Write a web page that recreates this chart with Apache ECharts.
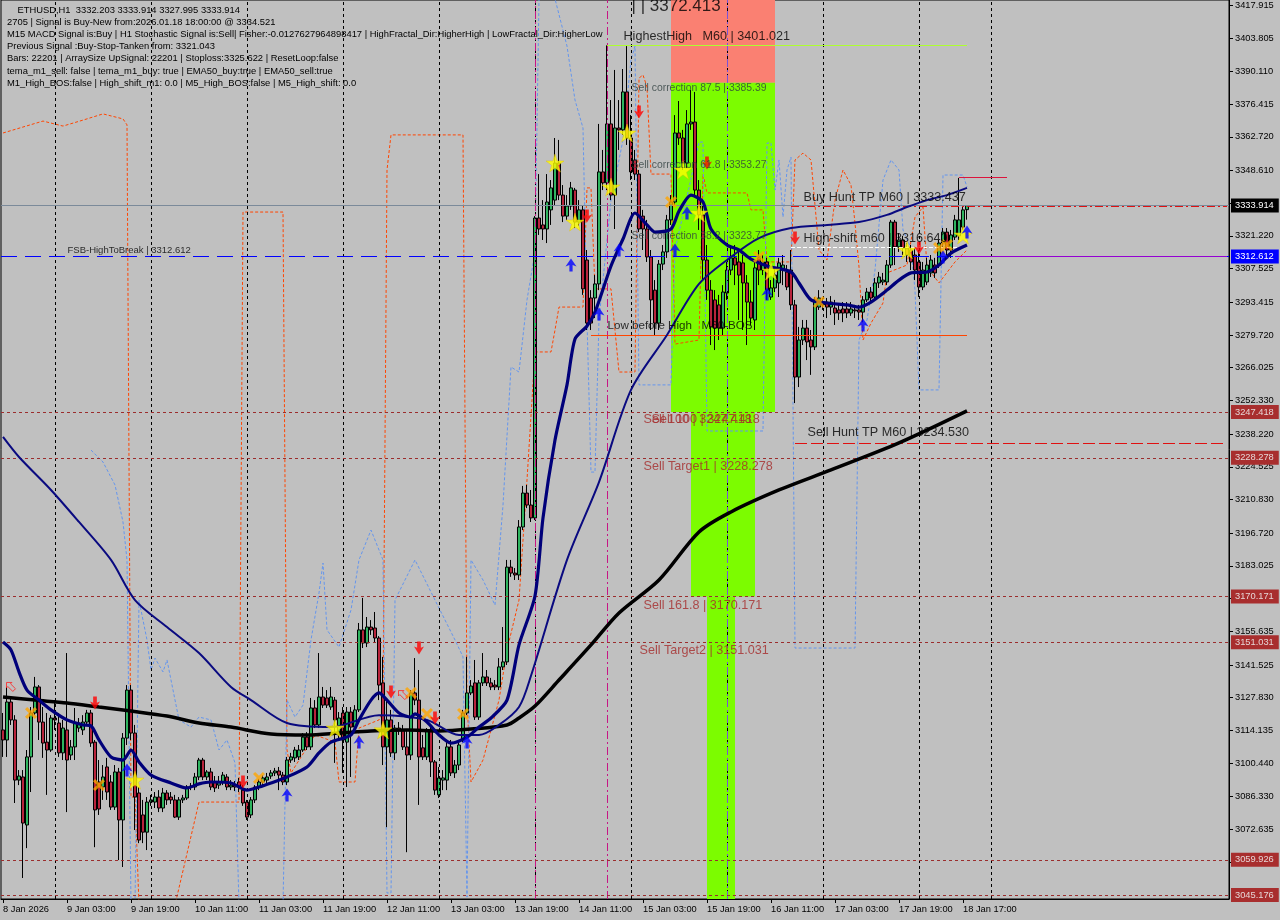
<!DOCTYPE html>
<html><head><meta charset="utf-8">
<script src="https://cdn.jsdelivr.net/npm/echarts@6/dist/echarts.min.js"></script>
<style>html,body{margin:0;padding:0;background:#C0C0C0;}#c{width:1280px;height:920px;}</style>
</head><body><div id="c"></div><script>
const FONT = "'Liberation Sans',Arial,sans-serif";

const slotCount = 307;
const timeLabels = ['8 Jan 2026','9 Jan 03:00','9 Jan 19:00','10 Jan 11:00','11 Jan 03:00','11 Jan 19:00','12 Jan 11:00','13 Jan 03:00','13 Jan 19:00','14 Jan 11:00','15 Jan 03:00','15 Jan 19:00','16 Jan 11:00','17 Jan 03:00','17 Jan 19:00','18 Jan 17:00'];
const yTickValues = [3417.915,3403.805,3390.110,3376.415,3362.720,3348.610,3334.915,3321.220,3307.525,3293.415,3279.720,3266.025,3252.330,3238.220,3224.525,3210.830,3196.720,3183.025,3169.330,3155.635,3141.525,3127.830,3114.135,3100.440,3086.330,3072.635,3058.940];

const infoLines = [
 '    ETHUSD,H1  3332.203 3333.914 3327.995 3333.914',
 '2705 | Signal is Buy-New from:2026.01.18 18:00:00 @ 3334.521',
 'M15 MACD Signal is:Buy | H1 Stochastic Signal is:Sell| Fisher:-0.0127627964898417 | HighFractal_Dir:HigherHigh | LowFractal_Dir:HigherLow',
 'Previous Signal :Buy-Stop-Tanken from: 3321.043',
 'Bars: 22201 | ArraySize UpSignal: 22201 | Stoploss:3325.622 | ResetLoop:false',
 'tema_m1_sell: false | tema_m1_buy: true | EMA50_buy:true | EMA50_sell:true',
 'M1_High_BOS:false | High_shift_m1: 0.0 | M5_High_BOS:false | M5_High_shift: 0.0'
];

// [open, close, low, high]
const candles = [
[3114.3,3110.1,3103.0,3121.4],[3110.1,3126.0,3103.0,3132.3],[3126.0,3118.5,3116.4,3128.1],[3118.5,3093.3,3083.7,3120.5],[3093.3,3095.0,3091.2,3097.5],
[3094.6,3075.3,3052.3,3097.5],[3074.5,3103.0,3064.8,3105.9],[3103.0,3121.4,3088.3,3123.9],[3121.4,3132.3,3120.5,3136.5],[3132.3,3117.6,3110.1,3133.1],
[3117.6,3108.8,3102.6,3123.9],[3109.2,3105.9,3087.1,3121.4],[3105.9,3119.3,3105.1,3120.5],[3119.3,3118.5,3114.3,3126.8],[3117.2,3104.7,3103.0,3121.4],
[3104.7,3115.1,3101.7,3118.5],[3114.3,3101.7,3079.9,3146.5],[3103.8,3107.2,3101.7,3110.1],[3107.2,3117.2,3101.7,3123.5],[3115.1,3117.2,3113.4,3119.3],
[3114.3,3117.6,3112.2,3120.5],[3117.6,3121.4,3116.4,3122.7],[3121.4,3108.8,3107.2,3122.7],[3109.2,3080.8,3065.2,3110.1],[3092.5,3081.2,3078.7,3101.7],
[3090.4,3094.6,3085.0,3099.6],[3098.8,3088.3,3085.0,3102.6],[3092.5,3082.0,3080.8,3095.4],[3082.0,3096.7,3080.8,3099.6],[3096.7,3076.6,3059.8,3098.4],
[3076.6,3110.9,3056.9,3113.0],[3110.9,3131.0,3108.0,3133.1],[3131.0,3113.0,3110.1,3133.1],[3113.0,3086.2,3072.4,3116.4],[3087.9,3068.2,3066.9,3090.4],
[3078.7,3071.5,3066.9,3085.0],[3071.5,3084.1,3064.0,3086.2],[3084.1,3085.0,3082.5,3087.1],[3084.1,3086.2,3081.6,3088.3],[3086.2,3081.6,3079.9,3089.1],
[3081.6,3087.9,3079.9,3090.0],[3087.9,3085.0,3082.9,3089.1],[3086.2,3085.0,3083.3,3088.3],[3085.0,3077.8,3077.4,3087.1],[3077.8,3085.0,3076.6,3086.2],
[3085.0,3085.8,3083.7,3087.1],[3085.8,3090.4,3085.0,3091.2],[3090.4,3090.8,3089.1,3092.1],[3090.4,3094.6,3089.1,3096.3],[3094.6,3101.7,3093.3,3102.6],
[3101.7,3094.6,3093.3,3102.6],[3094.6,3096.7,3093.3,3097.5],[3096.7,3090.4,3089.1,3098.4],[3092.5,3090.0,3088.3,3095.0],[3091.2,3092.5,3089.6,3095.0],
[3092.5,3095.4,3091.2,3096.7],[3094.6,3090.4,3089.1,3095.8],[3090.4,3091.2,3089.1,3093.3],[3091.2,3090.4,3088.7,3092.9],[3092.5,3090.4,3088.3,3094.2],
[3089.1,3083.7,3082.5,3091.2],[3084.1,3077.8,3076.6,3085.0],[3078.7,3085.0,3077.4,3086.2],[3085.0,3090.4,3083.7,3091.2],[3090.4,3092.5,3089.1,3093.8],
[3092.5,3094.2,3091.2,3095.4],[3093.3,3094.6,3092.1,3096.3],[3095.0,3096.3,3093.8,3097.5],[3096.3,3097.1,3095.0,3098.4],[3097.1,3095.4,3089.1,3098.8],
[3095.4,3092.5,3091.2,3096.7],[3092.5,3101.7,3091.2,3103.0],[3101.7,3103.0,3100.5,3104.7],[3102.6,3105.9,3100.9,3107.2],[3103.0,3105.9,3101.7,3108.0],
[3105.9,3111.3,3105.1,3113.0],[3111.3,3107.2,3105.9,3113.4],[3107.2,3123.5,3105.9,3127.7],[3123.5,3116.4,3115.1,3126.8],[3116.4,3128.1,3115.1,3146.5],
[3128.1,3124.7,3123.5,3132.3],[3127.7,3124.7,3123.5,3131.0],[3123.9,3128.1,3122.7,3132.3],[3126.8,3118.5,3100.5,3128.1],[3112.2,3119.3,3110.1,3121.8],
[3121.4,3110.1,3096.3,3123.9],[3109.2,3121.8,3090.4,3123.9],[3121.8,3115.5,3094.6,3123.9],[3115.5,3122.7,3114.3,3124.7],[3122.7,3156.2,3121.8,3159.1],
[3156.2,3150.7,3148.6,3169.6],[3150.7,3157.4,3149.0,3161.6],[3157.4,3156.2,3154.1,3160.3],[3157.0,3152.8,3151.1,3163.7],[3152.8,3133.1,3126.8,3153.6],
[3134.0,3107.2,3099.6,3144.9],[3107.2,3118.5,3073.6,3126.8],[3118.5,3104.7,3103.0,3122.7],[3104.7,3115.1,3101.7,3116.4],[3115.1,3114.3,3112.2,3117.6],
[3114.3,3107.2,3105.9,3116.4],[3107.2,3103.8,3063.1,3114.3],[3103.8,3129.8,3101.7,3131.0],[3129.8,3126.8,3124.7,3144.4],[3126.8,3103.0,3082.9,3139.4],
[3106.8,3103.0,3101.7,3112.2],[3103.0,3114.3,3101.7,3115.1],[3114.3,3100.9,3094.6,3116.4],[3100.9,3089.1,3087.1,3101.7],[3087.1,3094.2,3085.8,3098.8],
[3093.3,3094.2,3089.1,3097.5],[3093.3,3107.2,3089.1,3109.2],[3107.2,3096.3,3095.0,3110.1],[3096.3,3099.6,3094.2,3101.7],[3099.6,3108.0,3097.5,3109.2],
[3110.1,3121.4,3109.2,3122.7],[3121.4,3129.8,3120.5,3144.9],[3129.8,3132.7,3128.9,3135.2],[3134.0,3119.7,3118.5,3143.6],[3119.7,3134.0,3118.5,3135.2],
[3134.0,3136.5,3132.7,3146.5],[3136.5,3134.0,3132.7,3139.4],[3134.0,3132.3,3131.0,3136.1],[3133.1,3132.3,3131.0,3135.2],[3132.3,3140.7,3131.0,3144.4],
[3140.7,3142.8,3139.4,3157.4],[3142.8,3182.5,3141.5,3185.5],[3182.5,3180.0,3178.4,3185.5],[3180.0,3179.2,3177.1,3182.1],[3179.2,3199.3,3177.1,3202.2],
[3199.3,3213.5,3198.0,3216.5],[3213.5,3208.5,3207.2,3216.9],[3208.5,3203.1,3201.4,3214.8],[3203.1,3328.7,3202.2,3329.5],[3328.7,3324.1,3321.6,3347.1],
[3325.8,3324.1,3319.5,3336.2],[3324.1,3335.4,3318.2,3347.1],[3332.1,3341.3,3325.8,3344.6],[3336.2,3351.7,3334.1,3362.2],[3351.7,3338.3,3336.2,3361.4],
[3338.3,3329.5,3327.0,3342.5],[3329.5,3333.7,3327.9,3338.3],[3333.7,3341.3,3332.1,3343.8],[3340.4,3327.0,3324.5,3341.3],[3327.0,3332.1,3325.4,3336.2],
[3332.1,3299.0,3296.5,3334.1],[3311.1,3284.7,3281.8,3315.3],[3295.2,3284.7,3281.8,3298.5],[3295.2,3301.1,3286.8,3304.8],[3301.1,3348.0,3298.5,3368.1],
[3348.0,3343.4,3340.4,3357.2],[3343.4,3368.1,3340.4,3401.0],[3368.1,3338.3,3336.2,3378.1],[3338.3,3366.4,3324.1,3390.7],[3366.4,3365.6,3357.2,3378.1],
[3365.6,3381.5,3363.5,3391.1],[3381.5,3362.2,3359.3,3400.7],[3362.2,3348.0,3344.6,3371.8],[3353.0,3347.1,3344.6,3357.2],[3347.1,3324.1,3322.8,3348.8],
[3329.5,3324.1,3315.3,3332.1],[3324.1,3312.4,3310.3,3327.9],[3312.4,3294.4,3281.8,3315.3],[3298.5,3284.7,3279.7,3302.7],[3284.7,3309.4,3281.8,3311.1],
[3309.4,3314.5,3306.9,3317.4],[3314.5,3327.9,3312.0,3330.0],[3327.9,3335.4,3325.8,3338.3],[3335.4,3364.3,3334.1,3371.8],[3364.3,3362.2,3359.3,3377.7],
[3362.2,3351.7,3348.8,3365.6],[3351.7,3368.1,3349.6,3373.9],[3368.1,3368.9,3365.6,3382.3],[3368.9,3340.4,3338.3,3381.5],[3340.4,3330.0,3323.7,3344.6],
[3330.0,3311.1,3302.7,3334.1],[3311.1,3298.5,3294.4,3317.4],[3298.5,3283.1,3275.5,3302.7],[3294.4,3282.6,3273.4,3298.5],[3292.3,3282.6,3277.6,3296.5],
[3282.6,3297.7,3279.7,3300.6],[3297.3,3306.9,3294.4,3310.3],[3306.9,3312.0,3304.8,3317.4],[3312.0,3309.0,3300.6,3317.4],[3310.3,3304.8,3286.0,3315.3],
[3309.9,3301.5,3281.8,3313.2],[3301.5,3293.5,3275.5,3304.8],[3293.5,3286.8,3283.9,3298.5],[3286.0,3307.8,3281.8,3311.1],[3312.0,3306.9,3300.6,3315.3],
[3306.9,3310.3,3304.8,3313.2],[3310.3,3298.5,3294.4,3312.0],[3295.6,3299.4,3294.4,3302.7],[3299.4,3304.8,3297.7,3307.8],[3301.5,3309.9,3295.6,3312.0],
[3306.9,3309.0,3300.6,3313.2],[3306.1,3299.8,3298.5,3309.0],[3306.9,3292.3,3290.2,3315.3],[3292.3,3262.1,3251.2,3294.4],[3262.1,3277.6,3257.9,3283.1],
[3277.6,3282.6,3275.5,3286.0],[3282.6,3276.8,3269.2,3286.0],[3277.6,3274.7,3263.0,3281.8],[3274.7,3294.4,3273.4,3295.6],[3291.4,3295.2,3290.2,3298.5],
[3293.1,3292.3,3290.2,3295.2],[3293.5,3291.4,3286.8,3295.2],[3291.4,3293.5,3288.1,3296.0],[3291.0,3288.9,3283.9,3294.4],[3290.2,3288.9,3286.0,3293.1],
[3290.6,3288.9,3285.1,3293.5],[3290.6,3288.9,3286.8,3293.5],[3288.9,3290.6,3287.7,3293.5],[3290.2,3289.8,3286.8,3292.3],[3290.2,3289.3,3286.0,3292.3],
[3289.3,3294.4,3285.1,3296.0],[3294.4,3297.7,3293.5,3299.4],[3297.7,3295.2,3293.1,3299.8],[3295.6,3301.5,3294.4,3303.6],[3301.5,3304.0,3299.4,3306.1],
[3301.9,3302.7,3300.6,3305.7],[3301.9,3309.0,3300.6,3311.1],[3309.0,3327.0,3307.8,3327.9],[3327.0,3316.6,3309.0,3327.9],[3316.6,3319.5,3314.5,3322.4],
[3319.5,3316.1,3313.2,3321.2],[3316.1,3313.2,3310.3,3318.2],[3315.3,3310.3,3306.9,3317.4],[3313.2,3306.9,3302.7,3316.1],[3310.3,3299.8,3295.6,3315.3],
[3299.8,3306.9,3298.5,3310.3],[3301.9,3309.0,3300.6,3312.0],[3305.7,3311.1,3304.0,3313.2],[3309.0,3305.7,3303.6,3312.0],[3309.0,3318.2,3307.8,3319.5],
[3318.2,3322.8,3316.6,3324.5],[3322.8,3315.3,3313.2,3324.5],[3315.3,3321.6,3312.0,3323.7],[3320.7,3327.9,3319.5,3330.0],[3321.2,3327.9,3319.5,3345.5],
[3324.9,3332.1,3323.7,3334.1],[3332.2,3333.9,3328.0,3333.9]
];

// moving averages as [barIndex, price]
const ema200 = [[0,3128.1],[8,3126.8],[16,3125.6],[24,3123.9],[32,3122.2],[41,3120.1],[49,3117.2],[57,3115.5],[67,3112.6],[76,3112.2],[84,3113.0],[92,3113.9],[101,3114.3],[109,3113.9],[117,3114.7],[126,3116.4],[129,3119.3],[133,3124.3],[139,3135.2],[147,3149.9],[154,3163.3],[164,3177.1],[174,3197.2],[182,3205.6],[194,3214.8],[207,3223.2],[224,3234.5],[241,3247.9]];
const ema50 = [[0,3151.1],[2,3147.8],[4,3138.6],[6,3131.0],[9,3126.8],[12,3122.7],[16,3118.5],[20,3116.4],[22,3116.0],[24,3110.1],[27,3103.0],[30,3101.7],[32,3105.9],[34,3100.9],[37,3095.4],[42,3092.1],[46,3090.0],[49,3091.7],[52,3092.5],[57,3092.1],[61,3089.1],[64,3090.4],[67,3092.1],[71,3094.6],[76,3098.8],[79,3104.7],[82,3109.2],[87,3112.2],[89,3118.5],[92,3126.8],[94,3129.8],[96,3126.8],[99,3121.4],[102,3119.7],[103,3121.0],[106,3117.6],[109,3112.2],[112,3108.8],[116,3111.3],[119,3115.5],[122,3119.3],[126,3126.8],[129,3149.9],[133,3170.4],[135,3203.1],[138,3235.7],[141,3258.8],[143,3278.0],[146,3283.5],[148,3289.3],[152,3308.6],[155,3319.9],[158,3330.8],[161,3325.8],[163,3322.8],[167,3324.1],[169,3331.6],[172,3338.3],[175,3335.4],[177,3324.1],[181,3317.4],[184,3315.3],[187,3311.5],[191,3308.6],[197,3306.1],[199,3301.5],[202,3294.4],[206,3293.1],[211,3292.3],[214,3291.4],[217,3293.5],[221,3298.5],[224,3302.7],[227,3305.7],[231,3306.1],[234,3309.0],[237,3314.0],[241,3317.4]];
const ema100 = [[0,3237.0],[4,3228.6],[12,3214.8],[19,3201.4],[27,3185.5],[33,3168.7],[41,3157.4],[49,3146.5],[57,3132.3],[62,3126.8],[71,3117.2],[82,3115.5],[94,3120.5],[106,3118.5],[114,3112.2],[119,3112.2],[124,3116.4],[129,3123.9],[132,3137.0],[141,3185.5],[149,3218.1],[157,3256.7],[166,3279.7],[174,3301.1],[182,3312.4],[189,3320.3],[197,3324.5],[206,3325.8],[214,3327.0],[221,3330.0],[226,3333.3],[231,3336.2],[236,3338.3],[241,3341.3]];

// dashed envelope lines as [barIndex, price]
const orangeBand = [[0,3364.3],[5,3366.8],[10,3369.3],[15,3367.2],[20,3369.7],[25,3372.3],[30,3370.2],[31,3367.7],[32,3086.2],[33,3086.2],[34,3041.0],[43,3041.0],[49,3084.1],[59,3084.1],[60,3331.2],[70,3331.2],[71,3105.9],[72,3096.3],[78,3112.2],[83,3109.2],[84,3092.5],[88,3092.5],[89,3115.1],[94,3118.5],[95,3121.8],[96,3348.8],[97,3363.5],[115,3363.5],[116,3126.8],[117,3092.5],[120,3101.7],[124,3126.8],[126,3147.8],[129,3168.7],[131,3219.0],[133,3272.6],[137,3272.6],[138,3281.8],[139,3291.4],[145,3291.4],[146,3341.3],[147,3341.3],[148,3299.0],[152,3299.0],[154,3264.2],[158,3264.2],[159,3387.3],[160,3388.6],[161,3383.6],[162,3347.1],[167,3347.1],[168,3275.9],[174,3277.6],[175,3347.1],[176,3339.2],[186,3339.2],[187,3332.1],[190,3332.1],[191,3310.3],[197,3310.3],[198,3353.0],[200,3355.9],[202,3353.0],[203,3334.1],[204,3315.3],[206,3311.1],[208,3336.2],[210,3348.8],[212,3342.5],[213,3326.6],[214,3308.2],[215,3277.6],[217,3284.7],[220,3293.1],[221,3305.7],[226,3309.0],[228,3329.1],[230,3333.3],[231,3308.2],[234,3301.5],[238,3310.3],[241,3315.3]];
const blueBand = [[22,3231.5],[25,3226.5],[28,3216.9],[30,3201.4],[31,3185.5],[32,3041.0],[33,3041.0],[34,3168.7],[36,3152.0],[37,3139.4],[38,3144.4],[40,3138.6],[41,3143.6],[44,3118.5],[47,3115.5],[49,3119.7],[52,3118.5],[54,3105.9],[56,3110.1],[58,3100.5],[59,3041.0],[70,3041.0],[71,3126.8],[73,3119.7],[75,3124.7],[77,3152.0],[79,3171.7],[80,3184.2],[81,3156.2],[84,3149.0],[87,3164.5],[89,3185.5],[92,3198.0],[95,3185.5],[96,3046.0],[97,3046.0],[98,3168.7],[103,3185.5],[108,3168.7],[113,3152.0],[115,3144.9],[116,3044.3],[117,3185.5],[120,3177.1],[123,3166.6],[125,3208.5],[127,3266.3],[129,3264.2],[131,3294.4],[133,3314.5],[134,3420.5],[138,3420.5],[141,3400.7],[143,3378.1],[145,3366.4],[146,3286.0],[147,3222.3],[148,3222.3],[149,3286.0],[152,3336.2],[155,3361.4],[157,3394.9],[158,3400.7],[159,3258.8],[167,3258.8],[168,3315.3],[172,3345.0],[174,3360.5],[175,3360.5],[176,3239.5],[190,3239.5],[191,3360.1],[192,3360.1],[193,3340.4],[194,3353.0],[195,3329.1],[196,3348.8],[197,3354.2],[198,3148.6],[213,3148.6],[214,3277.6],[216,3286.0],[218,3306.9],[220,3344.6],[222,3353.0],[224,3348.8],[225,3323.7],[227,3316.1],[228,3298.5],[229,3256.7],[234,3256.7],[235,3346.7],[240,3346.7],[241,3341.7]];

// signal markers [barIndex, price]
const starMarks = [[33,3093.3],[83,3115.1],[95,3114.3],[138,3351.7],[143,3327.0],[152,3341.7],[156,3364.3],[170,3348.8],[174,3330.8],[192,3306.5],[226,3315.3],[240,3321.6]];
const crossMarks = [[7,3121.4],[24,3091.2],[64,3094.2],[102,3129.8],[106,3121.0],[115,3121.0],[167,3335.4],[189,3312.4],[204,3293.5],[234,3316.1],[236,3317.4]];
const sellArrows = [[23,3125.6],[60,3092.5],[97,3130.2],[104,3148.6],[108,3119.3],[146,3329.5],[159,3373.1],[176,3351.7],[198,3320.3],[229,3316.1]];
const buyArrows = [[31,3097.5],[71,3087.1],[89,3109.2],[116,3109.2],[142,3309.0],[149,3288.5],[154,3315.3],[168,3315.3],[171,3330.8],[191,3296.9],[215,3283.9],[235,3312.4],[241,3322.8]];
const hollowArrows = [[2,3132.3],[100,3128.9]];

// price levels
const lastPrice = 3333.914;
const fsbHighToBreak = 3312.612;
const sellLevels = [3247.418, 3228.278, 3170.171, 3151.031, 3059.926, 3045.176];
const buyHuntTP = 3333.437, sellHuntTP = 3234.530, highShift = 3316.640, highestHigh = 3401.021, lowBeforeHigh = 3279.6, boxTop = 3345.9;
const fibTop = 3385.39;
const dayStarts = [13,37,61,85,109,133,157,181,205,229,247];
const signalBars = [133,151];
const signalBar2 = [181];

// text notes: [barIndex, price, text]
const notes = [
 [155,3404.9,'HighestHigh   M60 | 3401.021'],
 [157,3383.1,'Sell correction 87.5 | 3385.39'],
 [157,3350.9,'Sell correction 61.8 | 3353.27'],
 [157,3321.2,'Sell correction 38.2 | 3323.77'],
 [160,3244.1,'Sell 100 | 3247.418'],
 [162,3244.1,'Sell 100 | 3247.418'],
 [160,3224.8,'Sell Target1 | 3228.278'],
 [160,3166.6,'Sell 161.8 | 3170.171'],
 [159,3147.4,'Sell Target2 | 3151.031'],
 [16,3315.3,'FSB-HighToBreak | 3312.612'],
 [200,3337.1,'Buy Hunt TP M60 | 3333.437'],
 [200,3320.3,'High-shift m60 | 3316.640'],
 [201,3238.7,'Sell Hunt TP M60 | 3234.530'],
 [151,3283.5,'Low before High   M60-BOS'],
 [157,3417.3,'| | 3372.413']
];
const noteStyle = i => {
  if (i>=1 && i<=3) return {color:'#2F3F3F', fontSize:10.4};
  if (i>=4 && i<=8) return {color:'#A52A2A', fontSize:12.6};
  if (i===9) return {color:'#000', fontSize:9.5};
  if (i===13) return {color:'#000', fontSize:11.6};
  if (i===14) return {color:'#000', fontSize:17};
  return {color:'#000', fontSize:12.6};
};

const cats = Array.from({length:slotCount},(_,i)=> (i%16===0 && i/16<timeLabels.length) ? timeLabels[i/16] : 'b'+i);
const showTick = i => i%16===0 && i/16<timeLabels.length;
const lastIdx = slotCount-1;
const yMin = 3043.5, yMax = 3420.0;

const STAR = 'path://M50,0 L61,35 L98,35 L68,57 L79,91 L50,70 L21,91 L32,57 L2,35 L39,35 Z';
const CROSS = 'path://M0,18 L18,0 L50,32 L82,0 L100,18 L68,50 L100,82 L82,100 L50,68 L18,100 L0,82 L32,50 Z';
const DOWN = 'path://M33,0 L67,0 L67,48 L96,38 L50,100 L4,38 L33,48 Z';
const UP = 'path://M50,0 L98,62 L64,50 L64,100 L36,100 L36,50 L2,62 Z';
const HOLLOW = 'path://M0,0 L60,0 L45,15 L100,70 L70,100 L15,45 L0,60 Z';

const seg = (k1,k2,p,style)=>[{coord:[k1,p], lineStyle:style, label:{show:false}},{coord:[k2,p]}];
const vline = (k,style)=>[{coord:[k,yMin], lineStyle:style},{coord:[k,yMax]}];
const boxLabel = (v,bg,fg)=>({show:true, position:'end', distance:2, formatter:v.toFixed(3), backgroundColor:bg, color:fg, padding:[2,5,1,4], fontSize:9.3, fontFamily:FONT, lineHeight:11});

const chart = echarts.init(document.getElementById('c'), null, {renderer:'canvas'});
chart.setOption({
  animation:false,
  backgroundColor:'#C0C0C0',
  grid:{left:1, right:51, top:0, bottom:21, outerBoundsMode:'none', containLabel:false, show:true, borderColor:'#000', borderWidth:1, backgroundColor:'#C0C0C0'},
  xAxis:{type:'category', data:cats, boundaryGap:true,
    axisLine:{show:true, lineStyle:{color:'#000', width:1}},
    axisTick:{show:true, alignWithLabel:true, interval:showTick, length:4, lineStyle:{color:'#000'}},
    axisLabel:{show:true, interval:showTick, align:'left', margin:6, color:'#000', fontSize:9.3, fontFamily:FONT},
    splitLine:{show:false}},
  yAxis:{type:'value', position:'right', min:yMin, max:yMax, scale:true,
    axisLine:{show:true, lineStyle:{color:'#000'}},
    axisTick:{show:true, customValues:yTickValues, length:4, lineStyle:{color:'#000'}},
    axisLabel:{show:true, customValues:yTickValues, formatter:v=>v.toFixed(3), margin:6, color:'#000', fontSize:9.3, fontFamily:FONT},
    splitLine:{show:false}},
  graphic: infoLines.map((t,i)=>({type:'text', x:7, y:10+12.2*i, z:100, style:{text:t, fill:'#000', font:'9.4px '+FONT, verticalAlign:'middle'}})),
  series:[
    {type:'line', name:'zones', z:1, data:[], silent:true,
      markArea:{silent:true, label:{show:false}, data:[
        [{coord:[167,yMax], itemStyle:{color:'#FA8072'}},{coord:[193,fibTop]}],
        [{coord:[167,fibTop], itemStyle:{color:'#7CFC00'}},{coord:[193,sellLevels[0]]}],
        [{coord:[172,sellLevels[0]], itemStyle:{color:'#7CFC00'}},{coord:[188,sellLevels[2]]}],
        [{coord:[176,sellLevels[2]], itemStyle:{color:'#7CFC00'}},{coord:[183,yMin]}]
      ]}},
    {type:'line', name:'separators', z:2, data:[], silent:true,
      markLine:{silent:true, symbol:['none','none'], label:{show:false},
        data:[
          ...dayStarts.map(k=>vline(k,{color:'#000', type:[3,3], width:1})),
          ...signalBars.map(k=>vline(k,{color:'#C71585', type:[8,3,2,3], width:1})),
          ...signalBar2.map(k=>vline(k,{color:'#7B52D8', type:[8,3,2,3], width:1}))
        ]}},
    {type:'line', name:'upperEnv', z:3, data:orangeBand, symbol:'none', silent:true, lineStyle:{color:'#FF4500', width:1, type:[3,2]}},
    {type:'line', name:'lowerEnv', z:3, data:blueBand, symbol:'none', silent:true, lineStyle:{color:'#6495ED', width:1, type:[3,2]}},
    {type:'candlestick', name:'ETHUSD,H1', z:4, data:candles, barWidth:3,
      itemStyle:{color:'#2FB45F', color0:'#B8243C', borderColor:'#000', borderColor0:'#000', borderWidth:1}},
    {type:'line', name:'EMA200', z:5, data:ema200, smooth:0.3, symbol:'none', lineStyle:{color:'#000', width:3.5}},
    {type:'line', name:'EMA100', z:5, data:ema100, smooth:0.3, symbol:'none', lineStyle:{color:'#0A0A80', width:2}},
    {type:'line', name:'EMA50', z:5, data:ema50, smooth:0.25, symbol:'none', lineStyle:{color:'#00007A', width:3.2}},
    {type:'line', name:'levels', z:6, data:[], silent:true,
      markLine:{silent:true, symbol:['none','none'], data:[
        {yAxis:lastPrice, lineStyle:{color:'#7B8A9A', type:'solid', width:1}, label:boxLabel(lastPrice,'#000','#fff')},
        {yAxis:fsbHighToBreak, lineStyle:{color:'#0000FF', type:[16,8], width:1}, label:boxLabel(fsbHighToBreak,'#0000FF','#fff')},
        ...sellLevels.map(v=>({yAxis:v, lineStyle:{color:'#9B2D2D', type:[3,3], width:1}, label:boxLabel(v,'#A82E2E','#E6D6D6')})),
        seg(197,lastIdx,buyHuntTP,{color:'#E01010', type:[8,3,2,3], width:1}),
        seg(198,lastIdx,sellHuntTP,{color:'#E01010', type:[12,4], width:1}),
        seg(197,240,highShift,{color:'#FFFFFF', type:[4,2], width:1}),
        seg(151,241,highestHigh,{color:'#ADFF2F', type:'solid', width:1}),
        seg(147,241,lowBeforeHigh,{color:'#FF4500', type:'solid', width:1}),
        seg(238,lastIdx,fsbHighToBreak,{color:'#9400D3', type:'solid', width:1}),
        seg(239,251,boxTop,{color:'#DC143C', type:'solid', width:1})
      ]}},
    {type:'scatter', name:'stars', z:7, data:starMarks, symbol:STAR, symbolSize:18, itemStyle:{color:'#FFFF00', borderColor:'#E0C000', borderWidth:0.5}},
    {type:'scatter', name:'crosses', z:7, data:crossMarks, symbol:CROSS, symbolSize:12, itemStyle:{color:'#FFA500'}},
    {type:'scatter', name:'sell', z:7, data:sellArrows, symbol:DOWN, symbolSize:[10,13], itemStyle:{color:'#FF0000'}},
    {type:'scatter', name:'buy', z:7, data:buyArrows, symbol:UP, symbolSize:[11,13], itemStyle:{color:'#0000FF'}},
    {type:'scatter', name:'hollow', z:7, data:hollowArrows, symbol:HOLLOW, symbolSize:[9,9], itemStyle:{color:'rgba(0,0,0,0)', borderColor:'#FF2020', borderWidth:1}},
    {type:'scatter', name:'notes', z:8, silent:true, symbol:'circle', symbolSize:1, itemStyle:{color:'rgba(0,0,0,0)'},
      data:notes.map((n,i)=>({value:[n[0],n[1]], name:n[2], label:Object.assign({show:true, position:'right', distance:0, formatter:'{b}', fontFamily:FONT}, noteStyle(i))}))}
  ]
});
</script></body></html>
